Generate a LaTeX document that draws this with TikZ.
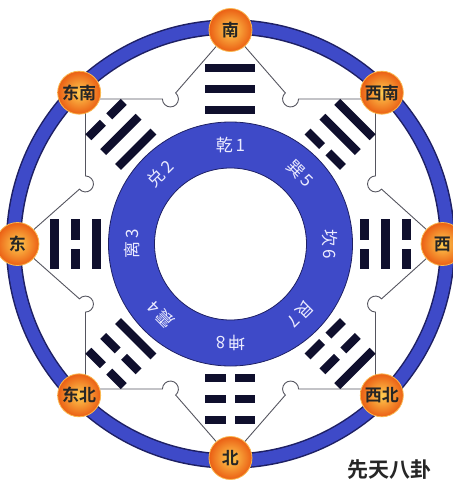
\documentclass[tikz,border=0pt]{standalone}
\usepackage{fontspec}
\newfontfamily\cjk{Noto Sans CJK SC}
\newfontfamily\cjkb{Noto Sans CJK SC Bold}
\usetikzlibrary{calc,backgrounds}
\definecolor{ringblue}{RGB}{62,74,200}
\definecolor{navy}{RGB}{30,32,100}
\definecolor{barcol}{RGB}{15,15,45}
\definecolor{linegray}{RGB}{85,85,95}
\definecolor{orin}{RGB}{255,205,80}
\definecolor{orout}{RGB}{235,95,20}
\definecolor{orrim}{RGB}{250,185,80}
\newcommand\yaobar[2]{%
  \ifnum#2=1
    \fill[yao] (-25,#1-4.2) rectangle (25,#1+4.2);
  \else
    \fill[yao] (-25,#1-4.2) rectangle (-4.5,#1+4.2);
    \fill[yao] (4.5,#1-4.2) rectangle (25,#1+4.2);
  \fi}
\begin{document}
\begin{tikzpicture}[x=1pt,y=1pt,
  dirnode/.style={circle, minimum size=43pt, inner sep=0pt, inner color=orin, outer color=orout, draw=orrim, line width=0.8pt, font=\cjkb\fontsize{17}{17}\selectfont, text=black!85},
  ringlabel/.style={font=\cjk\fontsize{17}{17}\selectfont, text=white!92!blue, inner sep=0pt},
  conn/.style={draw=linegray, line width=0.9pt},
  yao/.style={fill=barcol}]
\useasboundingbox (-230.5,-239) rectangle (222.5,244);
% outer ring
\draw[navy, line width=15.5pt] (0,0) circle (217);
\draw[ringblue, line width=12.5pt] (0,0) circle (217);
% inner annulus
\fill[ringblue, even odd rule] (0,0) circle (122) (0,0) circle (76);
\draw[navy, line width=0.8pt] (0,0) circle (122) (0,0) circle (76);
% trigrams (bottom line innermost)
\foreach \ang/\a/\b/\c in {90/1/1/1, 135/1/1/0, 180/1/0/1, 225/1/0/0, 45/0/1/1, 0/0/1/0, 315/0/0/1, 270/0/0/0}{
  \begin{scope}[rotate=\ang-90]
    \yaobar{134}{\a}
    \yaobar{155}{\b}
    \yaobar{176}{\c}
  \end{scope}
}
% ring labels
\foreach \ang/\txt/\nm in {90/乾\,1/l1, 135/兑\,2/l2, 180/离\,3/l3, 225/震\,4/l4, 45/巽\,5/l5, 0/坎\,6/l6, 315/艮\,7/l7, 270/坤\,8/l8}{
  \node[ringlabel, rotate=\ang-90] (\nm) at (\ang:99) {\txt};
}
% direction nodes
\node[dirnode] (nan) at (90:214) {南};
\node[dirnode] (bei) at (270:214) {北};
\node[dirnode] (dong) at (180:213) {东};
\node[dirnode] (xi) at (0:212) {西};
\node[dirnode] (dongnan) at (135:214) {东南};
\node[dirnode] (xinan) at (45:214) {西南};
\node[dirnode] (dongbei) at (225:214) {东北};
\node[dirnode] (xibei) at (315:214) {西北};
% bump points
\coordinate (b1) at (22.5:157);
\coordinate (b2) at (67.5:157);
\coordinate (b3) at (112.5:157);
\coordinate (b4) at (157.5:157);
\coordinate (b5) at (202.5:157);
\coordinate (b6) at (247.5:157);
\coordinate (b7) at (292.5:157);
\coordinate (b8) at (337.5:157);
\begin{pgfonlayer}{background}
\draw[conn] (b1 |- xinan) -- ($(b1)+(90:8)$) arc[start angle=90, end angle=318.93, radius=8] -- (xi);
\draw[conn] (b3 -| dongnan) -- ($(b3)+(180:8)$) arc[start angle=180, end angle=408.93, radius=8] -- (nan);
\draw[conn] (b5 |- dongbei) -- ($(b5)+(270:8)$) arc[start angle=270, end angle=498.93, radius=8] -- (dong);
\draw[conn] (b7 -| xibei) -- ($(b7)+(360:8)$) arc[start angle=360, end angle=588.93, radius=8] -- (bei);
\draw[conn] (nan) -- ($(b2)+(131.07:8)$) arc[start angle=131.07, end angle=360, radius=8] -- (b2 -| xinan);
\draw[conn] (dong) -- ($(b4)+(221.07:8)$) arc[start angle=221.07, end angle=450, radius=8] -- (b4 |- dongnan);
\draw[conn] (bei) -- ($(b6)+(311.07:8)$) arc[start angle=311.07, end angle=540, radius=8] -- (b6 -| dongbei);
\draw[conn] (xi) -- ($(b8)+(401.07:8)$) arc[start angle=401.07, end angle=630, radius=8] -- (b8 |- xibei);
\end{pgfonlayer}
% title
\node[font=\cjkb\fontsize{21}{21}\selectfont, text=black!85] (title) at (159,-226) {先天八卦};
\end{tikzpicture}
\end{document}
